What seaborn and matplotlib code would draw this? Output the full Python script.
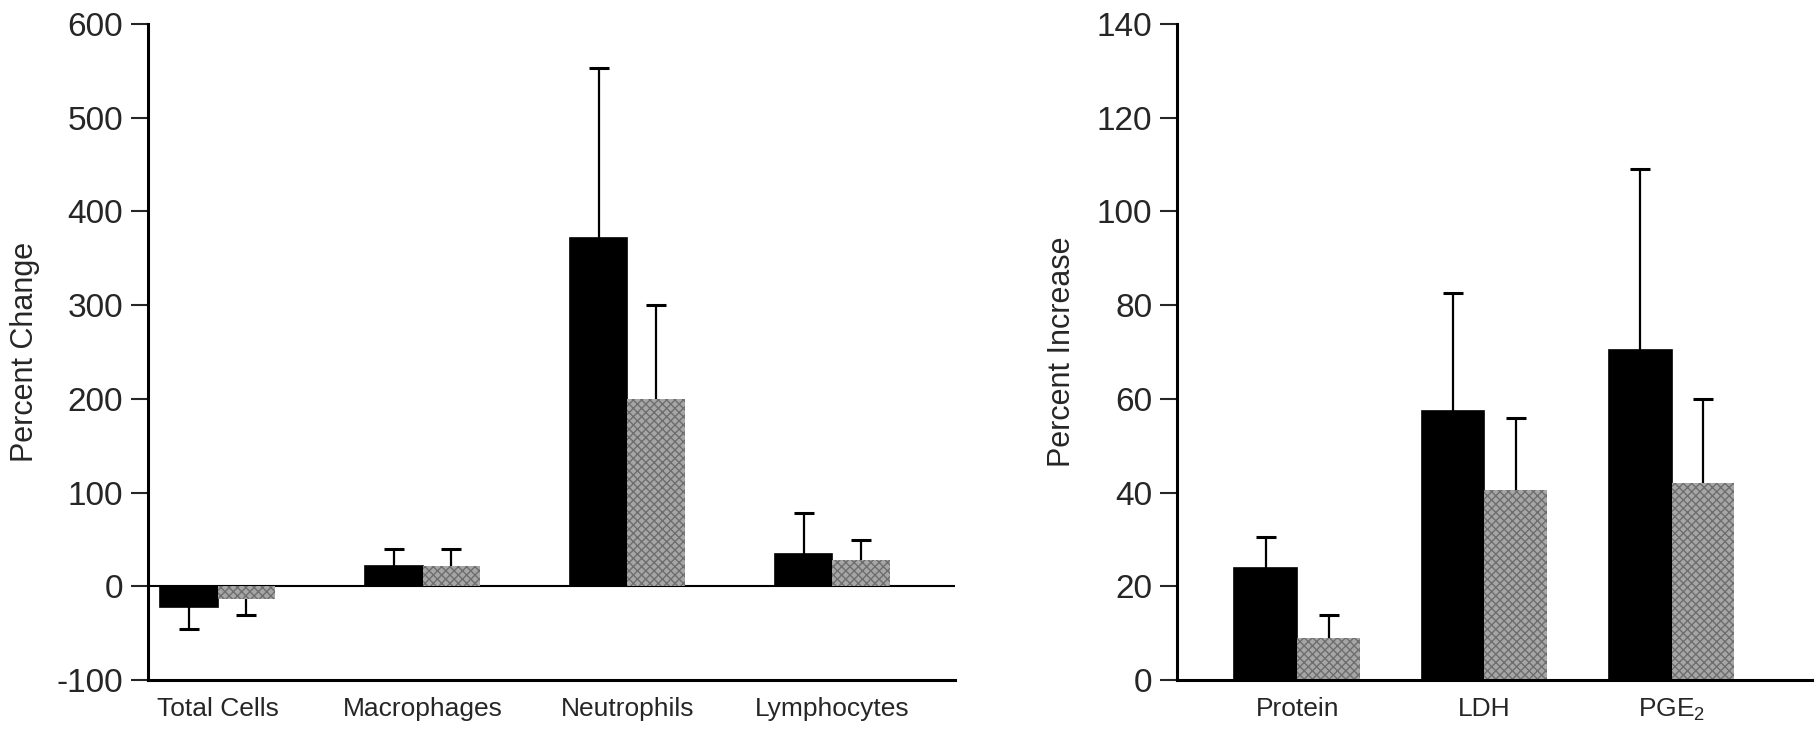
import numpy as np
import pandas as pd
import matplotlib
matplotlib.use("Agg")
import matplotlib.pyplot as plt
import seaborn as sns

# ---- data ----
cell_types = ["Total Cells", "Macrophages", "Neutrophils", "Lymphocytes"]
cell_black = [-22, 22, 372, 35]
cell_black_err = [23, 18, 181, 43]
cell_grey = [-13, 22, 200, 28]
cell_grey_err = [17, 18, 100, 22]

markers = ["Protein", "LDH", "PGE$_2$"]
marker_black = [24, 57.5, 70.5]
marker_black_err = [6.5, 25, 38.5]
marker_grey = [9, 40.5, 42]
marker_grey_err = [5, 15.5, 18]

groups = ["black", "grey"]

sns.set_style("white")
plt.rcParams["font.family"] = ["Liberation Sans Narrow", "Liberation Sans", "DejaVu Sans"]
plt.rcParams["mathtext.default"] = "regular"
plt.rcParams["axes.unicode_minus"] = False

fig = plt.figure(figsize=(18.14, 7.41), dpi=100)
ax1 = fig.add_axes([0.0816, 0.082, 0.445, 0.886])
ax2 = fig.add_axes([0.649, 0.082, 0.351, 0.886])


def long_df(cats, black, grey):
    return pd.DataFrame({
        "cat": cats * 2,
        "group": ["black"] * len(cats) + ["grey"] * len(cats),
        "value": black + grey,
    })


def draw_panel(ax, cats, black, grey, black_err, grey_err, width):
    df = long_df(cats, black, grey)
    sns.barplot(data=df, x="cat", y="value", hue="group", hue_order=groups,
                palette={"black": "black", "grey": "#a6a6a6"}, width=width,
                legend=False, ax=ax, errorbar=None, saturation=1,
                edgecolor="black", linewidth=1.2)
    # dithered texture on grey bars
    for p in ax.containers[1]:
        p.set_hatch("xxxx")
        p.set_edgecolor("#6e6e6e")
        p.set_linewidth(0.0)
    # one-sided error bars in the direction of the bar, cap only at the end
    for cont, errs in zip(ax.containers, [black_err, grey_err]):
        for p, e in zip(cont, errs):
            xc = p.get_x() + p.get_width() / 2
            h = p.get_height()
            end = h + e if h >= 0 else h - e
            ax.vlines(xc, h, end, color="black", linewidth=1.6, zorder=1)
            ax.plot([xc], [end], marker="_", markersize=15, markeredgewidth=2.2,
                    color="black", zorder=1)
    for s in ["top", "right"]:
        ax.spines[s].set_visible(False)
    for s in ["left", "bottom"]:
        ax.spines[s].set_linewidth(2.2)
        ax.spines[s].set_color("black")
    ax.tick_params(axis="y", direction="out", length=12, width=1.5,
                   labelsize=24, left=True, pad=6)
    ax.tick_params(axis="x", length=0, labelsize=19, pad=12)
    ax.set_xlabel("")


# left panel
draw_panel(ax1, cell_types, cell_black, cell_grey, cell_black_err, cell_grey_err, 0.56)
ax1.set_ylim(-100, 600)
ax1.set_yticks(np.arange(-100, 601, 100))
ax1.set_xlim(-0.34, 3.6)
ax1.axhline(0, color="black", linewidth=1.5, zorder=0)
ax1.set_ylabel("Percent Change", fontsize=22, labelpad=12)

# right panel
draw_panel(ax2, markers, marker_black, marker_grey, marker_black_err, marker_grey_err, 0.67)
ax2.set_ylim(0, 140)
ax2.set_yticks(np.arange(0, 141, 20))
ax2.set_xlim(-0.64, 2.76)
ax2.set_ylabel("Percent Increase", fontsize=22, labelpad=14)

fig.savefig("out.png", dpi=100)
